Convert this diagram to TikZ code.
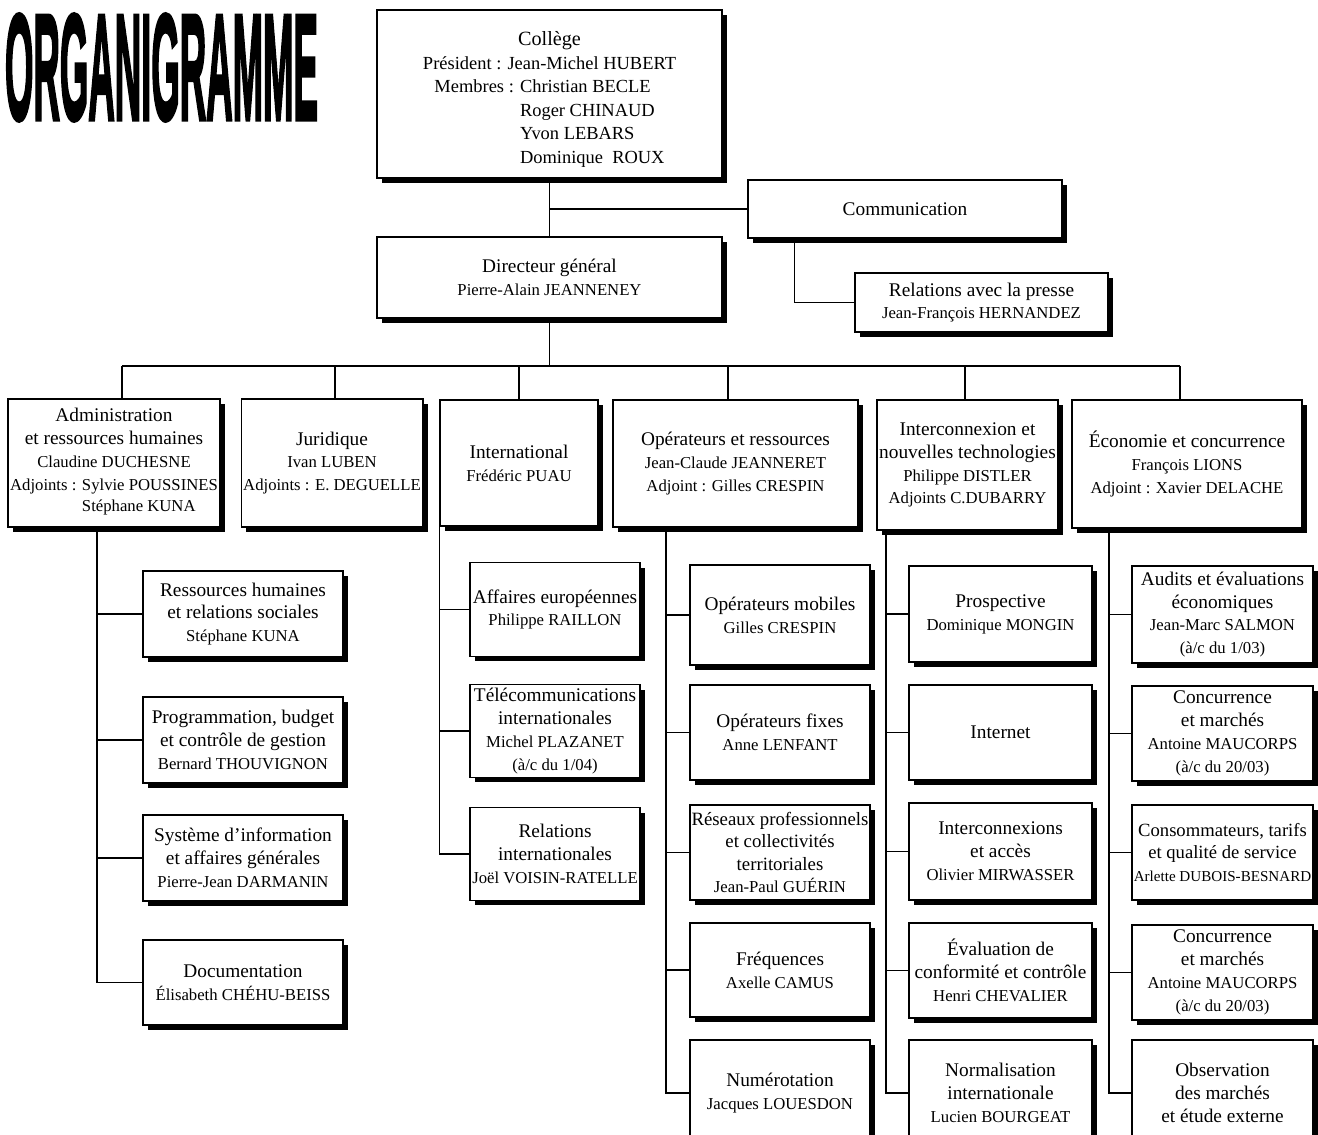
\documentclass[tikz,border=0pt]{standalone}
\usepackage{fontspec}
\setmainfont{Liberation Serif}
\newfontfamily\titrefont[BoldFeatures={FakeBold=3}]{Liberation Sans}
\usetikzlibrary{shadows}

\newcommand{\nm}{\fontsize{9.5}{12}\selectfont}

\tikzset{
  box/.style={draw, line width=1.1pt, fill=white, align=center, inner sep=1pt,
    font=\fontsize{11}{13}\selectfont,
    drop shadow={shadow xshift=0.1cm, shadow yshift=-0.1cm, fill=black, opacity=1}},
  link/.style={draw, line width=0.6pt}
}

\begin{document}
\begin{tikzpicture}[x=0.02cm, y=-0.02cm]
\useasboundingbox (0,0) rectangle (1318,1135);

% titre
\node[inner sep=0] (titre) at (161.5,67.5) {\resizebox{6.26cm}{2.1cm}{\titrefont\bfseries ORGANIGRAMME}};

% direction
\node[box, minimum width=6.9cm, minimum height=3.36cm, font=\fontsize{10.5}{13.4}\selectfont] (college) at (549.5,94)
  {\rule{0pt}{16pt}{\fontsize{11.5}{13.4}\selectfont Collège}\\Président : Jean-Michel HUBERT\\\begin{tabular}[t]{@{}r@{ }l@{}}Membres : & Christian BECLE\\ & Roger CHINAUD\\ & Yvon LEBARS\\ & Dominique\ \ ROUX\end{tabular}};
\node[box, minimum width=6.28cm, minimum height=1.16cm] (comm) at (905,209) {Communication};
\node[box, minimum width=6.9cm, minimum height=1.62cm] (dg) at (549.5,277.5)
  {Directeur général\\{\nm Pierre-Alain JEANNENEY}};
\node[box, minimum width=5.06cm, minimum height=1.18cm] (presse) at (981.5,302.5)
  {Relations avec la presse\\{\nm Jean-François HERNANDEZ}};

\draw[link] (college.south) -- (dg.north);
\draw[link] (college.south |- comm.west) -- (comm.west);
\draw[link] (comm.south west) ++(47,0) |- (presse.west);

% directions
\node[box, minimum width=4.24cm, minimum height=2.56cm] (adm) at (114,463)
  {Administration\\et ressources humaines\\{\nm Claudine DUCHESNE}\\{\nm\begin{tabular}[t]{@{}r@{ }l@{}}Adjoints : & Sylvie POUSSINES\\ & Stéphane KUNA\end{tabular}}};
\node[box, minimum width=3.52cm, minimum height=2.56cm] (jur) at (332,463)
  {Juridique\\{\nm Ivan LUBEN}\\{\nm Adjoints : E. DEGUELLE}};
\node[box, minimum width=3.16cm, minimum height=2.52cm] (int) at (519,463)
  {International\\{\nm Frédéric PUAU}};
\node[box, minimum width=4.9cm, minimum height=2.54cm] (ops) at (735.5,463.5)
  {Opérateurs et ressources\\{\nm Jean-Claude JEANNERET}\\{\nm Adjoint : Gilles CRESPIN}};
\node[box, minimum width=3.62cm, minimum height=2.6cm] (inter) at (967.5,465)
  {Interconnexion et\\nouvelles technologies\\{\nm Philippe DISTLER}\\{\nm Adjoints C.DUBARRY}};
\node[box, minimum width=4.6cm, minimum height=2.56cm] (eco) at (1187,464)
  {Économie et concurrence\\{\nm François LIONS}\\{\nm Adjoint : Xavier DELACHE}};

% bus
\coordinate (busA) at (122,366);
\coordinate (busB) at (335,366);
\coordinate (busC) at (519,366);
\coordinate (busD) at (728,366);
\coordinate (busE) at (965,366);
\coordinate (busF) at (1180,366);
\draw[link] (dg.south) -- (dg.south |- busA);
\draw[link] (busA) -- (busF);
\foreach \b/\n in {busA/adm, busB/jur, busC/int, busD/ops, busE/inter, busF/eco}
  \draw[link] (\b) -- (\b |- \n.north);

% administration
\node[box, minimum width=4cm, minimum height=1.72cm] (rh) at (243,614)
  {Ressources humaines\\et relations sociales\\{\nm Stéphane KUNA}};
\node[box, minimum width=4cm, minimum height=1.72cm] (prog) at (243,740)
  {Programmation, budget\\et contrôle de gestion\\{\nm Bernard THOUVIGNON}};
\node[box, minimum width=4cm, minimum height=1.72cm] (sys) at (243,858)
  {Système d'information\\et affaires générales\\{\nm Pierre-Jean DARMANIN}};
\node[box, minimum width=4cm, minimum height=1.7cm] (doc) at (243,982.5)
  {Documentation\\{\nm Élisabeth CHÉHU-BEISS}};

\coordinate (sA) at (97,0);
\draw[link] (sA |- adm.south) |- (doc.west);
\foreach \n in {rh, prog, sys}
  \draw[link] (sA |- \n.west) -- (\n.west);

% international
\node[box, minimum width=3.4cm, minimum height=1.88cm] (ae) at (555,609.5)
  {Affaires européennes\\{\nm Philippe RAILLON}};
\node[box, minimum width=3.4cm, minimum height=1.86cm] (tel) at (555,731)
  {Télécommunications\\internationales\\{\nm Michel PLAZANET}\\{\nm (à/c du 1/04)}};
\node[box, minimum width=3.4cm, minimum height=1.86cm] (relint) at (555,854)
  {Relations\\internationales\\{\nm Joël VOISIN-RATELLE}};

\draw[link] (int.south west) |- (relint.west);
\foreach \n in {ae, tel}
  \draw[link] (int.south west |- \n.west) -- (\n.west);

% operateurs
\node[box, minimum width=3.6cm, minimum height=2cm] (mob) at (780,615)
  {Opérateurs mobiles\\{\nm Gilles CRESPIN}};
\node[box, minimum width=3.6cm, minimum height=1.9cm] (fix) at (780,732.5)
  {Opérateurs fixes\\{\nm Anne LENFANT}};
\node[box, minimum width=3.6cm, minimum height=1.9cm, font=\fontsize{10.7}{12.8}\selectfont] (res) at (780,852.5)
  {Réseaux professionnels\\et collectivités\\territoriales\\{\nm Jean-Paul GUÉRIN}};
\node[box, minimum width=3.6cm, minimum height=1.88cm] (freq) at (780,970)
  {Fréquences\\{\nm Axelle CAMUS}};
\node[box, minimum width=3.6cm, minimum height=2.12cm] (num) at (780,1093)
  {Numérotation\\{\nm Jacques LOUESDON}};

\coordinate (sD) at (666,0);
\draw[link] (sD |- ops.south) |- (num.west);
\foreach \n in {mob, fix, res, freq}
  \draw[link] (sD |- \n.west) -- (\n.west);

% interconnexion
\node[box, minimum width=3.66cm, minimum height=1.92cm] (pros) at (1000.5,614)
  {Prospective\\{\nm Dominique MONGIN}};
\node[box, minimum width=3.66cm, minimum height=1.9cm] (inet) at (1000.5,732.5) {Internet};
\node[box, minimum width=3.66cm, minimum height=1.94cm] (icx) at (1000.5,851.5)
  {Interconnexions\\et accès\\{\nm Olivier MIRWASSER}};
\node[box, minimum width=3.66cm, minimum height=1.9cm] (eval) at (1000.5,970.5)
  {Évaluation de\\conformité et contrôle\\{\nm Henri CHEVALIER}};
\node[box, minimum width=3.66cm, minimum height=2.12cm] (norm) at (1000.5,1093)
  {Normalisation\\internationale\\{\nm Lucien BOURGEAT}};

\coordinate (sE) at (886,0);
\draw[link] (sE |- inter.south) |- (norm.west);
\foreach \n in {pros, inet, icx, eval}
  \draw[link] (sE |- \n.west) -- (\n.west);

% economie
\node[box, minimum width=3.62cm, minimum height=1.94cm] (aud) at (1222.5,614.5)
  {Audits et évaluations\\économiques\\{\nm Jean-Marc SALMON}\\{\nm (à/c du 1/03)}};
\node[box, minimum width=3.62cm, minimum height=1.9cm] (conc) at (1222.5,733.5)
  {Concurrence\\et marchés\\{\nm Antoine MAUCORPS}\\{\nm (à/c du 20/03)}};
\node[box, minimum width=3.62cm, minimum height=1.9cm, font=\fontsize{10.6}{13}\selectfont] (cons) at (1222.5,852.5)
  {Consommateurs, tarifs\\et qualité de service\\{\fontsize{8.6}{12}\selectfont Arlette DUBOIS-BESNARD}};
\node[box, minimum width=3.62cm, minimum height=1.9cm] (concb) at (1222.5,972.5)
  {Concurrence\\et marchés\\{\nm Antoine MAUCORPS}\\{\nm (à/c du 20/03)}};
\node[box, minimum width=3.62cm, minimum height=2.12cm] (obs) at (1222.5,1093)
  {Observation\\des marchés\\et étude externe};

\coordinate (sF) at (1109,0);
\draw[link] (sF |- eco.south) |- (obs.west);
\foreach \n in {aud, conc, cons, concb}
  \draw[link] (sF |- \n.west) -- (\n.west);

\end{tikzpicture}
\end{document}
